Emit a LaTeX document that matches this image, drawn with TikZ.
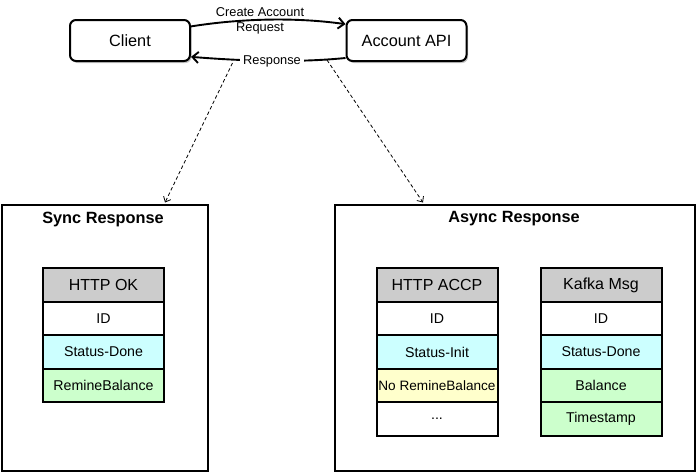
\documentclass[tikz,border=0pt]{standalone}
\usepackage{fontspec}
\setmainfont{Liberation Sans}
\usetikzlibrary{arrows.meta,shadows,calc}
\definecolor{hdr}{HTML}{CCCCCC}
\definecolor{cyanc}{HTML}{CCFFFF}
\definecolor{greenc}{HTML}{CCFFCC}
\definecolor{yellowc}{HTML}{FFFFCC}
\tikzset{
  actor/.style={draw, line width=2pt, rounded corners=6pt, fill=white,
    minimum width=120pt, minimum height=41pt, inner sep=0pt,
    font=\fontsize{16.3}{19}\selectfont,
    drop shadow={shadow xshift=1.5pt, shadow yshift=-2pt, opacity=0.45}},
  panel/.style={draw, line width=1.8pt, inner sep=0pt},
  paneltitle/.style={font=\fontsize{16.3}{19}\selectfont\bfseries},
  cell/.style={draw, line width=2pt, minimum width=121pt, minimum height=33.5pt,
    inner sep=0pt, font=\fontsize{14.2}{17}\selectfont},
  headcell/.style={cell, fill=hdr, font=\fontsize{16}{19}\selectfont},
  lbl/.style={font=\fontsize{12.8}{15}\selectfont, align=center, inner sep=1pt},
  flow/.style={line width=1.9pt, -{Straight Barb[length=6pt,width=11pt,line width=1.9pt]}},
  dflow/.style={line width=0.8pt, dash pattern=on 3.5pt off 2.5pt,
    -{Straight Barb[length=4.5pt,width=8pt,line width=0.8pt]}}
}
\begin{document}
\begin{tikzpicture}[x=1pt,y=-1pt]
\useasboundingbox (0,0) rectangle (698,472);
% top actors
\node[actor] (client) at (130,40.5) {Client};
\node[actor] (api) at (406.5,40.5) {Account API};
% request / response
\draw[flow] (client.13) .. controls +(50,-8) and +(-50,-7) .. (api.165);
\node[lbl] (reqlbl) at (260,21) {Create Account\\Request};
\draw[flow] (api.196) .. controls +(-50,5) and +(50,4) .. (client.-15);
\node[lbl, fill=white, inner sep=3pt] (resplbl) at (272,61) {Response};
% panels
\node[panel, minimum width=206pt, minimum height=266pt, anchor=north west] (sync) at (1,204) {};
\node[paneltitle] (synct) at (103,219) {Sync Response};
\node[panel, minimum width=360pt, minimum height=266pt, anchor=north west] (async) at (334,204) {};
\node[paneltitle] (asynct) at (514,219) {Async Response};
% dashed arrows
\coordinate (ds) at (232.5,63);
\coordinate (da) at (327,60);
\draw[dflow] (ds) -- ($(sync.north west)+(164,-1.5)$);
\draw[dflow] (da) -- ($(async.north west)+(89,-1.5)$);
% Sync table
\node[headcell] (s0) at (103.5,285) {HTTP OK};
\node[cell, fill=white] (s1) at (103.5,318.5) {ID};
\node[cell, fill=cyanc] (s2) at (103.5,352) {Status-Done};
\node[cell, fill=greenc] (s3) at (103.5,385.5) {RemineBalance};
% HTTP ACCP table
\node[headcell] (a0) at (437,285) {HTTP ACCP};
\node[cell, fill=white] (a1) at (437,318.5) {ID};
\node[cell, fill=cyanc] (a2) at (437,352) {Status-Init};
\node[cell, fill=yellowc, font=\fontsize{13.6}{16}\selectfont] (a3) at (437,385.5) {No RemineBalance};
\node[cell, fill=white] (a4) at (437,419) {...};
% Kafka table
\node[headcell] (k0) at (601,285) {Kafka Msg};
\node[cell, fill=white] (k1) at (601,318.5) {ID};
\node[cell, fill=cyanc] (k2) at (601,352) {Status-Done};
\node[cell, fill=greenc] (k3) at (601,385.5) {Balance};
\node[cell, fill=greenc] (k4) at (601,419) {Timestamp};
\end{tikzpicture}
\end{document}
